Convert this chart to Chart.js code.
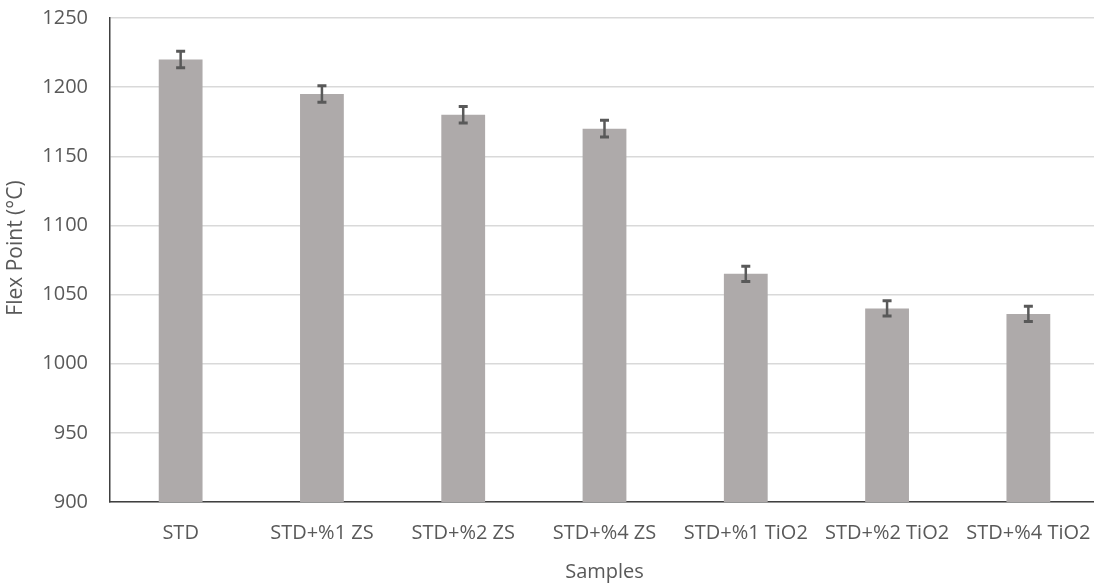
<!DOCTYPE html>
<html>
<head>
<meta charset="utf-8">
<script src="https://cdn.jsdelivr.net/npm/chart.js@4.4.1/dist/chart.umd.min.js"></script>
<style>
  html, body { margin: 0; padding: 0; background: #ffffff; overflow: hidden; }
  #wrap { position: relative; width: 1099px; height: 587px; }
</style>
</head>
<body>
<div id="wrap"><canvas id="chart"></canvas></div>
<script>
// Sample names along the x axis
const categories = ['STD', 'STD+%1 ZS', 'STD+%2 ZS', 'STD+%4 ZS', 'STD+%1 TiO2', 'STD+%2 TiO2', 'STD+%4 TiO2'];
// Flex point per sample, °C
const flexPoint = [1220, 1195, 1180, 1170, 1065, 1040, 1036];
// Symmetric error (±) per sample, °C
const flexError = [6, 6, 6, 6, 5.5, 5.5, 5.5];
// Value axis ticks
const yTicks = [900, 950, 1000, 1050, 1100, 1150, 1200, 1250];

const FONT = '"Open Sans", "Noto Sans", sans-serif';
const TEXT = '#595959';

// Draws ± error whiskers with caps on each bar, positioned through the chart scales
const errorBars = {
  id: 'errorBars',
  afterDatasetsDraw(chart) {
    const { ctx, scales: { x, y } } = chart;
    ctx.save();
    ctx.strokeStyle = '#595959';
    ctx.lineCap = 'butt';
    flexPoint.forEach((v, i) => {
      const cx = x.getPixelForValue(i);
      const yHi = y.getPixelForValue(v + flexError[i]);
      const yLo = y.getPixelForValue(v - flexError[i]);
      ctx.lineWidth = 2.5;
      ctx.beginPath();
      ctx.moveTo(cx, yHi);
      ctx.lineTo(cx, yLo);
      ctx.stroke();
      ctx.lineWidth = 3;
      ctx.beginPath();
      ctx.moveTo(cx - 4.5, yHi);
      ctx.lineTo(cx + 4.5, yHi);
      ctx.moveTo(cx - 4.5, yLo);
      ctx.lineTo(cx + 4.5, yLo);
      ctx.stroke();
    });
    ctx.restore();
  }
};

// Vertical value-axis title, sitting a little above the axis midpoint
const yTitle = {
  id: 'yTitle',
  afterDraw(chart) {
    const { ctx, chartArea } = chart;
    ctx.save();
    ctx.translate(16, (chartArea.top + chartArea.bottom) / 2 - 12);
    ctx.rotate(-Math.PI / 2);
    ctx.fillStyle = TEXT;
    ctx.font = '21px ' + FONT;
    ctx.textAlign = 'center';
    ctx.textBaseline = 'middle';
    ctx.fillText('Flex Point (°C)', 0, 0);
    ctx.restore();
  }
};

new Chart(document.getElementById('chart'), {
  type: 'bar',
  data: {
    labels: categories,
    datasets: [{
      data: flexPoint,
      backgroundColor: '#AEAAAA',
      borderWidth: 0,
      categoryPercentage: 1,
      barPercentage: 0.31
    }]
  },
  options: {
    responsive: true,
    maintainAspectRatio: false,
    animation: false,
    events: [],
    layout: { padding: { top: 18, right: 0, bottom: 3, left: 4 } },
    plugins: {
      legend: { display: false },
      tooltip: { enabled: false }
    },
    scales: {
      x: {
        afterFit(axis) {
          axis.height = 82;
          axis.paddingLeft = 0;
          axis.paddingRight = 0;
        },
        grid: { display: false, drawTicks: false },
        border: { display: true, color: '#404040', width: 1.5 },
        ticks: {
          color: TEXT,
          font: { family: FONT, size: 20 },
          padding: 19,
          maxRotation: 0,
          autoSkip: false
        },
        title: {
          display: true,
          text: 'Samples',
          color: TEXT,
          font: { family: FONT, size: 20 },
          padding: { top: 0, bottom: 0 }
        }
      },
      y: {
        min: 900,
        max: 1250,
        afterBuildTicks(axis) {
          axis.ticks = yTicks.map(v => ({ value: v }));
        },
        afterFit(axis) {
          axis.width = 106;
          axis.paddingTop = 0;
          axis.paddingBottom = 0;
        },
        grid: { color: '#D9D9D9', lineWidth: 1.5, drawTicks: false },
        border: { display: true, color: '#404040', width: 1.5 },
        ticks: {
          color: TEXT,
          font: { family: FONT, size: 20 },
          padding: 22,
          callback: v => String(v)
        },
        title: { display: false }
      }
    }
  },
  plugins: [errorBars, yTitle]
});
</script>
</body>
</html>
